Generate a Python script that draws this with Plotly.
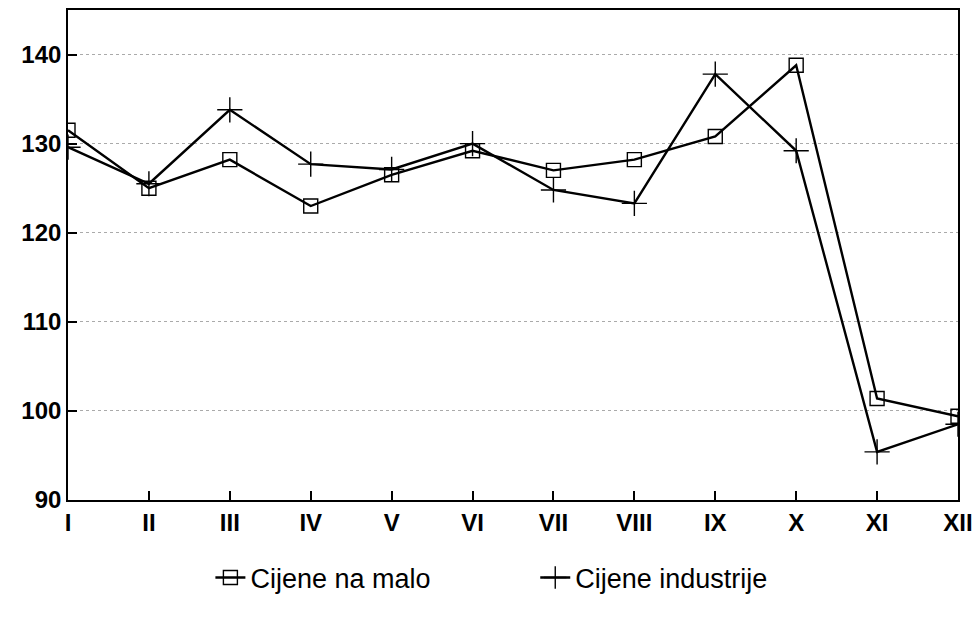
import plotly.graph_objects as go

months = ["I", "II", "III", "IV", "V", "VI", "VII", "VIII", "IX", "X", "XI", "XII"]
cijene_na_malo = [131.5, 125.0, 128.2, 123.0, 126.5, 129.2, 127.0, 128.2, 130.8, 138.8, 101.4, 99.4]
cijene_industrije = [129.6, 125.5, 133.8, 127.7, 127.1, 130.0, 124.8, 123.3, 137.8, 129.2, 95.4, 98.5]
y_ticks = [90, 100, 110, 120, 130, 140]

x_idx = list(range(len(months)))
FONT = "Liberation Sans, Arial, sans-serif"

fig = go.Figure()
fig.add_trace(go.Scatter(
    x=x_idx, y=cijene_na_malo, name="Cijene na malo", mode="lines+markers",
    line=dict(color="black", width=2.4),
    marker=dict(symbol="square-open", size=14, color="black", line=dict(width=1.4)),
    legend="legend",
))
fig.add_trace(go.Scatter(
    x=x_idx, y=cijene_industrije, name="Cijene industrije", mode="lines+markers",
    line=dict(color="black", width=2.4),
    marker=dict(symbol="cross-thin-open", size=18, color="black", line=dict(width=1.4, color="black")),
    legend="legend2",
))

legend_common = dict(orientation="h", xanchor="left", y=-0.159, yanchor="middle",
                     font=dict(size=27, family=FONT), bgcolor="rgba(0,0,0,0)")

fig.update_layout(
    width=978, height=618,
    margin=dict(l=68, r=20, t=10, b=118, autoexpand=False),
    paper_bgcolor="white", plot_bgcolor="white",
    font=dict(family=FONT, color="black"),
    showlegend=True,
    legend=dict(x=0.16, **legend_common),
    legend2=dict(x=0.525, **legend_common),
    xaxis=dict(
        range=[0, 11], tickmode="array", tickvals=x_idx, ticktext=months,
        showline=True, linecolor="black", linewidth=1.6, mirror=True,
        ticks="inside", ticklen=9, tickcolor="black", tickwidth=1.5,
        showgrid=False, zeroline=False, automargin=False,
        tickfont=dict(size=24, family=FONT, weight="bold"),
    ),
    yaxis=dict(
        range=[90, 145], tickmode="array", tickvals=y_ticks,
        showline=True, linecolor="black", linewidth=1.6, mirror=True,
        ticks="inside", ticklen=9, tickcolor="black", tickwidth=1.5,
        showgrid=True, gridcolor="#aaaaaa", griddash="dot", gridwidth=1,
        zeroline=False, automargin=False,
        tickfont=dict(size=24, family=FONT, weight="bold"),
    ),
)

fig.write_html(
    "out.html",
    config={"displayModeBar": False},
    post_script="document.body.style.margin='0';document.body.style.overflow='hidden';",
)
